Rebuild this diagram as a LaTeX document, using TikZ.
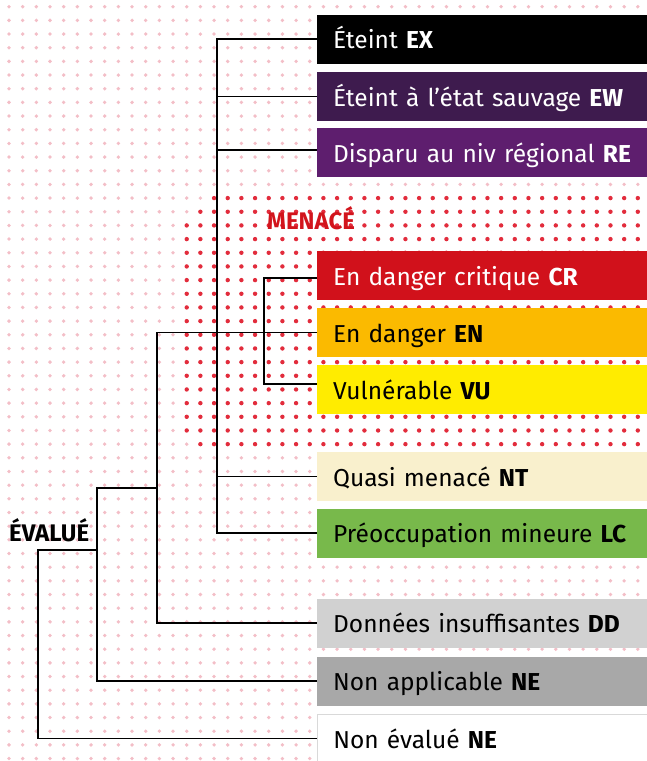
\documentclass[tikz,border=0pt]{standalone}
\usepackage{fontspec}
\setmainfont{Fira Sans}
\definecolor{dotpale}{RGB}{243,190,199}
\definecolor{dotred}{RGB}{226,44,60}
\definecolor{menace}{RGB}{210,20,28}
\definecolor{colEX}{RGB}{0,0,0}
\definecolor{colEW}{RGB}{62,27,78}
\definecolor{colRE}{RGB}{94,30,110}
\definecolor{colCR}{RGB}{209,17,27}
\definecolor{colEN}{RGB}{251,186,0}
\definecolor{colVU}{RGB}{255,236,0}
\definecolor{colNT}{RGB}{249,240,205}
\definecolor{colLC}{RGB}{120,185,75}
\definecolor{colDD}{RGB}{209,209,209}
\definecolor{colNA}{RGB}{168,168,168}
\tikzset{
	category/.style={anchor=west, minimum height=49pt, text width=313pt,
		inner xsep=16pt, inner ysep=0pt, text height=19pt, text depth=0pt,
		align=left, font=\fontsize{24.5}{27}\selectfont},
	branch/.style={line width=1.8pt, black},
	title/.style={anchor=base west, inner sep=0pt, font=\fontsize{24}{27}\selectfont\bfseries},
}

\begin{document}
\begin{tikzpicture}[x=1pt, y=-1pt]
			%%%%% START %%%%%
			\useasboundingbox (0,0) rectangle (646,761);
			
			% dotted background
			\foreach \i in {0,...,46}
			\foreach \j in {0,...,55}
			\fill[dotpale] (9+13.67*\i, 6.7+13.67*\j) circle (1.9pt);
			
			% threatened zone
			\foreach \j in {14,...,32} {
				\pgfmathtruncatemacro{\ifirst}{\j==14 ? 15 : ((\j==15 || \j==32) ? 14 : 13)}
				\foreach \i in {\ifirst,...,46}
				\fill[dotred] (9+13.67*\i, 6.7+13.67*\j) circle (2.2pt);
			}
			
			\node[title, text=menace] (menace) at (267, 229) {MENACÉ};
			\node[title] (evalue) at (9, 541) {ÉVALUÉ};
			
			% categories
			\node[category, fill=colEX, text=white] (ex) at (317, 39) {Éteint \textbf{EX}};
			\node[category, fill=colEW, text=white] (ew) at (317, 96.5) {Éteint à l’état sauvage \textbf{EW}};
			\node[category, fill=colRE, text=white] (re) at (317, 152.5) {Disparu au niv régional \textbf{RE}};
			\node[category, fill=colCR, text=white] (cr) at (317, 275.5) {En danger critique \textbf{CR}};
			\node[category, fill=colEN] (en) at (317, 332.5) {En danger \textbf{EN}};
			\node[category, fill=colVU] (vu) at (317, 389.5) {Vulnérable \textbf{VU}};
			\node[category, fill=colNT] (nt) at (317, 476.5) {Quasi menacé \textbf{NT}};
			\node[category, fill=colLC] (lc) at (317, 533) {Préoccupation mineure \textbf{LC}};
			\node[category, fill=colDD] (dd) at (317, 623) {Données insuffisantes \textbf{DD}};
			\node[category, fill=colNA] (na) at (317, 681) {Non applicable \textbf{NE}};
			\node[category, fill=white, draw=black!15, line width=0.8pt] (ne) at (317, 738.5) {Non évalué \textbf{NE}};
			
			% tree
			\coordinate (t1) at (217, 0);
			\coordinate (t2) at (264, 0);
			\coordinate (t3) at (157, 0);
			\coordinate (t4) at (97, 0);
			\coordinate (t5) at (38, 0);
			\coordinate (j3) at (157, 488);
			\coordinate (j4) at (97, 550);
			\coordinate (cr1) at ([yshift=-2.5pt]cr.west);
			\coordinate (vu1) at ([yshift=5.5pt]vu.west);
			
			\draw[branch] (ex.west) -| (t1 |- lc.west) -- (lc.west);
			\draw[branch] (ew.west) -- (ew.west -| t1);
			\draw[branch] ([yshift=2.5pt]re.west) -- ([yshift=2.5pt]re.west -| t1);
			\draw[branch] (nt.west) -- (nt.west -| t1);
			\draw[branch] (cr1) -| (vu1 -| t2) -- (vu1);
			\draw[branch] (en.west) -| (t3 |- dd.west) -- (dd.west);
			\draw[branch] (j3) -| (t4 |- na.west) -- (na.west);
			\draw[branch] (j4) -| (t5 |- ne.west) -- (ne.west);
			
			%%%%% END %%%%%
\end{tikzpicture}
\end{document}
